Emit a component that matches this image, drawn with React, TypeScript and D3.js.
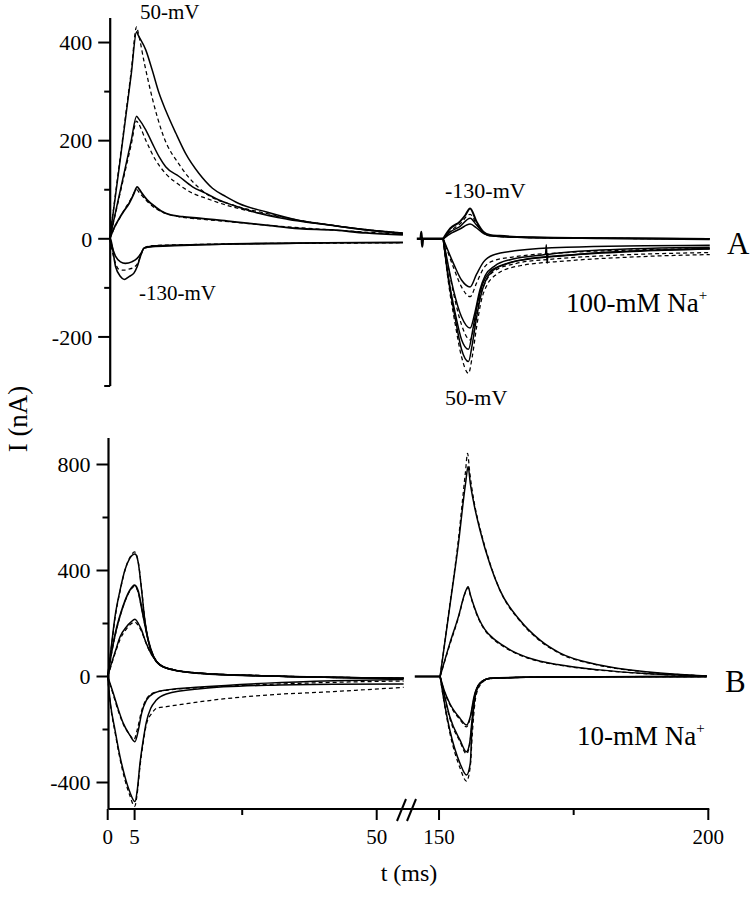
import React from "react";
import * as d3 from "d3";

type Pt = [number, number];

// ---------- axis ticks ----------
const A_major = [400, 200, 0, -200];
const A_minor = [300, 100, -100, -300];
const B_major = [800, 400, 0, -400];
const B_minor = [600, 200, -200];
const X_major = [0, 5, 50, 150, 200];
const X_minor = [25, 175];

// ---------- Panel A (100-mM Na+) : on phase 0-55 ms ----------
const A1_solid: Pt[] = [[0,0],[1,82],[2,165],[3,250],[4,335],[5,422],[5.3,415],[6.7,385],[7.9,344],[9.2,296],[10.4,262],[12.3,215],[14.1,174],[16.6,133],[19.1,103],[21.6,86],[24,72],[29,55],[35,38],[41,28],[47.6,18],[54.5,11]];
const A1_fit: Pt[] = [[0,0],[1,85],[2,170],[3,255],[4,342],[5,432],[5.3,420],[6.5,355],[8,283],[9.8,215],[13.2,147],[17.8,93],[22.8,69],[29,52],[35,38],[41,28],[47.6,19],[54.5,12]];
const A2_solid: Pt[] = [[0,0],[1,50],[2,100],[3,150],[4,200],[5,250],[5.3,246],[6.7,222],[7.9,195],[9.2,167],[10.4,147],[12.9,127],[15.4,106],[17.8,93],[20.3,79],[22.8,69],[27.7,52],[33,40],[40,29],[47,19],[54.5,11]];
const A2_fit: Pt[] = [[0,0],[1,48],[2,96],[3,144],[4,192],[5,240],[5.3,236],[6.7,201],[8.5,161],[10.4,133],[12.9,110],[15.4,93],[17.8,83],[22.8,65],[28,52],[35,38],[41,28],[47.6,19],[54.5,12]];
const A3_solid: Pt[] = [[0,0],[0.8,22],[1.7,40],[2.6,56],[3.6,72],[4.5,92],[5.1,106],[5.5,101],[5.8,96],[7,79],[8.5,65],[10.4,52],[13.5,45],[16.6,42],[22.8,35],[29,28],[35.2,21],[41.4,18],[47.6,12],[54.5,8]];
const A3_fit: Pt[] = [[0,0],[1,25],[2,45],[3,64],[4,82],[5,100],[5.5,94],[7,76],[8.5,62],[10.4,52],[13.5,44],[17,40],[23,34],[30,27],[40,19],[54.5,9]];
const A4_solid: Pt[] = [[0,0],[0.2,-2],[1.1,-57],[2.0,-77],[2.7,-83],[3.6,-77],[4.5,-70],[5.1,-57],[5.8,-33],[6.4,-19],[7.9,-16],[12,-14],[18,-12],[27.8,-9],[40,-8],[54.5,-7]];
const A5_solid: Pt[] = [[0,0],[1.1,-36],[2.0,-47],[2.9,-50],[4.1,-47],[5.1,-40],[5.8,-30],[6.4,-19],[8,-15],[12,-13],[20,-11],[30,-10],[42,-8],[54.5,-8]];
const A4_fit: Pt[] = [[0,0],[0.8,-40],[1.7,-62],[2.6,-64],[3.5,-62],[4.5,-58],[5.2,-50],[5.8,-32],[6.5,-18],[8,-14],[14,-12],[25,-10],[40,-9],[54.5,-8]];

// ---------- Panel A : off phase 145-200 ms ----------
const A_pre: Pt[] = [[145.5,0],[146.2,0],[146.35,14],[146.5,-16],[146.65,0],[150.4,0]];
const A6_solid: Pt[] = [[150.4,0],[151.7,21],[153.5,35],[154.5,48],[155.4,62],[156.6,35],[157.9,14],[159.1,8],[160.9,6],[167.1,3],[179.5,1],[199.9,-1]];
const A7_solid: Pt[] = [[150.4,0],[151.7,14],[153.5,25],[155.4,42],[156.6,28],[157.9,12],[159.1,6],[165,3],[180,1],[199.9,0]];
const A8_solid: Pt[] = [[150.4,0],[152,12],[153.5,20],[155.4,30],[156.6,22],[158,10],[160,5],[170,2],[199.9,0]];
const A6_fit: Pt[] = [[150.4,0],[152,18],[153.5,30],[155.4,50],[156.6,30],[158,12],[160,5],[170,2],[199.9,0]];
const A9_solid: Pt[] = [[150.4,0],[151.4,-85],[152.6,-160],[153.8,-225],[155.1,-250],[155.8,-215],[156.6,-160],[157.4,-115],[158.3,-85],[159.7,-64],[162,-52],[164.1,-45],[173.3,-34],[185.7,-26],[199.9,-21]];
const A9_fit: Pt[] = [[150.4,0],[151.4,-91],[152.6,-172],[153.8,-240],[155.1,-274],[155.8,-240],[156.6,-180],[157.5,-125],[158.5,-95],[160,-75],[164.1,-56],[173.3,-45],[185.7,-37],[199.9,-32]];
const A12_solid: Pt[] = [[150.4,0],[151.4,-80],[152.6,-150],[153.8,-205],[155.1,-225],[155.9,-185],[156.8,-130],[157.8,-90],[159,-68],[161,-55],[165,-43],[175,-32],[199.9,-20]];
const A10_solid: Pt[] = [[150.4,0],[152.3,-104],[153.8,-159],[155.4,-182],[156.3,-150],[157.2,-105],[158.2,-75],[160,-55],[163,-42],[167.1,-35],[169.4,-32],[169.55,-12],[169.7,-50],[169.85,-32],[179.5,-23],[199.9,-17]];
const A10_fit: Pt[] = [[150.4,0],[152.3,-110],[153.8,-175],[155.4,-206],[156.3,-170],[157.2,-120],[158.4,-85],[160,-65],[164,-50],[170,-42],[179.5,-35],[199.9,-28]];
const A11_solid: Pt[] = [[150.4,0],[152.3,-50],[153.8,-84],[155.4,-98],[156.6,-72],[157.9,-47],[159.7,-33],[164.1,-24],[173.3,-17],[199.9,-13]];
const A11_fit: Pt[] = [[150.4,0],[152.3,-58],[153.8,-98],[155.4,-118],[156.6,-90],[157.9,-60],[159.7,-45],[164.1,-36],[173.3,-28],[185,-23],[199.9,-20]];

// ---------- Panel B (10-mM Na+) : on phase ----------
const B1_solid: Pt[] = [[0,0],[0.74,125],[1.36,226],[2.3,326],[3.2,402],[4.1,446],[5.07,462],[5.3,458],[5.7,427],[6.3,326],[6.9,213],[7.5,138],[8.5,75],[9.7,43],[12.2,25],[17.2,12],[29.6,2],[40,-3],[55,-7]];
const B1_fit: Pt[] = [[0,0],[0.74,120],[1.36,220],[2.3,322],[3.2,400],[4.1,448],[5.0,470],[5.3,462],[5.7,430],[6.3,330],[6.9,215],[7.5,140],[8.5,78],[9.7,45],[12.2,26],[17.2,13],[29.6,3],[55,-6]];
const B2_solid: Pt[] = [[0,0],[0.7,90],[1.5,170],[2.3,230],[3.2,285],[4.1,325],[5,345],[5.3,340],[5.7,320],[6.3,260],[6.9,198],[7.5,140],[8.5,76],[9.7,44],[12.2,25],[17.2,12],[29.6,2],[55,-7]];
const B2_fit: Pt[] = [[0,0],[0.7,85],[1.5,165],[2.3,228],[3.2,283],[4.1,322],[5,340],[5.3,335],[5.7,316],[6.3,258],[6.9,196],[7.5,139],[8.5,76],[9.7,44],[12.2,25],[17.2,12],[29.6,2],[55,-7]];
const B3_solid: Pt[] = [[0,0],[0.7,50],[1.5,100],[2.3,150],[3.5,188],[4.3,205],[5.07,216],[5.4,210],[5.7,200],[6.3,175],[6.9,140],[7.5,110],[8.5,72],[9.7,44],[12.2,25],[17.2,12],[29.6,2],[55,-7]];
const B3_fit: Pt[] = [[0,0],[0.7,45],[1.5,95],[2.3,140],[3.5,180],[4.3,198],[5.07,205],[5.4,200],[5.7,192],[6.3,170],[6.9,138],[7.5,108],[8.5,72],[9.7,44],[12.2,25],[17.2,12],[29.6,2],[55,-7]];
const B4_solid: Pt[] = [[0,0],[0.5,-101],[1.36,-202],[2.3,-303],[3.2,-378],[4.1,-435],[5.07,-472],[5.5,-428],[6,-328],[6.6,-240],[7.2,-170],[8,-120],[9,-90],[10.9,-66],[17.2,-46],[29.6,-33],[42,-29],[55,-28]];
const B4_fit: Pt[] = [[0,0],[0.5,-105],[1.36,-210],[2.3,-312],[3.2,-390],[4.1,-448],[5.0,-490],[5.5,-440],[6,-340],[6.6,-250],[7.2,-180],[8.2,-139],[9.1,-120],[10.9,-114],[17.2,-95],[29.6,-70],[41.9,-57],[55,-41]];
const B5_solid: Pt[] = [[0,0],[1.05,-64],[2.0,-126],[2.9,-177],[4.1,-221],[5.07,-246],[5.7,-202],[6.3,-139],[7.2,-89],[8.5,-64],[10.9,-51],[17.2,-40],[29.6,-25],[42,-16],[55,-11]];
const B5_fit: Pt[] = [[0,0],[1.05,-70],[2.0,-132],[2.9,-180],[4.1,-220],[4.9,-238],[5.5,-200],[6.3,-130],[7.2,-85],[8.5,-62],[10.9,-52],[17.2,-42],[29.6,-30],[42,-22],[55,-17]];

// ---------- Panel B : off phase ----------
const B_pre: Pt[] = [[145.2,0],[150.2,0]];
const B6_solid: Pt[] = [[150.2,0],[152,265],[153.5,485],[154.9,725],[155.4,792],[155.8,730],[156.5,650],[157.6,553],[159.5,421],[161.3,326],[165,213],[168.7,138],[172.4,89],[179.8,43],[189,17],[199.7,2]];
const B6_fit: Pt[] = [[150.2,0],[152,270],[153.5,500],[154.9,770],[155.3,842],[155.7,770],[156.5,660],[157.6,560],[159.5,425],[161.3,326],[165,210],[168.7,135],[172.4,87],[179.8,42],[189,16],[199.7,2]];
const B7_solid: Pt[] = [[150.2,0],[152,125],[153.6,226],[154.8,314],[155.4,339],[155.8,310],[156.5,265],[157.4,218],[158.5,178],[160,145],[161.8,118],[164,92],[167,68],[172,45],[179.8,25],[189,10],[199.7,2]];
const B7_fit: Pt[] = [[150.2,0],[152,120],[153.6,222],[154.8,312],[155.4,335],[155.8,307],[156.5,262],[157.4,215],[158.5,175],[160,142],[161.8,115],[164,90],[167,66],[172,44],[179.8,24],[189,10],[199.7,2]];
const B8_solid: Pt[] = [[150.2,0],[150.8,-76],[152,-202],[153.9,-328],[155.1,-372],[155.8,-328],[156.1,-202],[156.7,-76],[157.6,-26],[159.5,-7],[165,-3],[180,-1],[199.7,0]];
const B8_fit: Pt[] = [[150.2,0],[150.8,-80],[152,-212],[153.9,-345],[155.1,-395],[155.8,-340],[156.2,-210],[156.8,-80],[157.8,-28],[159.5,-8],[170,-2],[199.7,0]];
const B9_solid: Pt[] = [[150.2,0],[151,-70],[152,-152],[153.9,-240],[155.1,-284],[155.7,-250],[156.1,-170],[156.6,-76],[157.6,-26],[159.5,-7],[170,-2],[199.7,0]];
const B9_fit: Pt[] = [[150.2,0],[151,-74],[152,-158],[153.9,-246],[155.1,-292],[155.7,-255],[156.15,-172],[156.7,-76],[157.7,-26],[159.5,-7],[170,-2],[199.7,0]];
const B10_solid: Pt[] = [[150.2,0],[151,-55],[152,-102],[153.9,-158],[155.1,-183],[155.8,-152],[156.5,-76],[157.6,-26],[159.5,-7],[170,-2],[199.7,0]];
const B10_fit: Pt[] = [[150.2,0],[151,-58],[152,-106],[153.9,-163],[155.1,-190],[155.8,-156],[156.55,-78],[157.7,-26],[159.5,-7],[170,-2],[199.7,0]];

const tracesA: { d: Pt[]; dash?: boolean; w?: number }[] = [
  { d: A1_fit, dash: true }, { d: A2_fit, dash: true }, { d: A3_fit, dash: true }, { d: A4_fit, dash: true },
  { d: A1_solid }, { d: A2_solid }, { d: A3_solid, w: 1.8 }, { d: A4_solid, w: 1.6 }, { d: A5_solid, w: 1.6 },
  { d: A_pre, w: 2.4 },
  { d: A6_fit, dash: true }, { d: A9_fit, dash: true }, { d: A10_fit, dash: true }, { d: A11_fit, dash: true },
  { d: A6_solid, w: 2 }, { d: A7_solid }, { d: A8_solid }, { d: A9_solid }, { d: A12_solid },
  { d: A10_solid }, { d: A11_solid },
];

const tracesB: { d: Pt[]; dash?: boolean; w?: number }[] = [
  { d: B1_fit, dash: true }, { d: B2_fit, dash: true }, { d: B3_fit, dash: true }, { d: B4_fit, dash: true }, { d: B5_fit, dash: true },
  { d: B1_solid }, { d: B2_solid, w: 1.8 }, { d: B3_solid }, { d: B4_solid }, { d: B5_solid },
  { d: B_pre, w: 2.4 },
  { d: B6_fit, dash: true }, { d: B7_fit, dash: true }, { d: B8_fit, dash: true }, { d: B9_fit, dash: true }, { d: B10_fit, dash: true },
  { d: B6_solid }, { d: B7_solid }, { d: B8_solid }, { d: B9_solid }, { d: B10_solid },
];

const SERIF = "'Liberation Serif', 'Times New Roman', Times, serif";

export default function App() {
  const x = d3.scaleLinear().domain([0, 55.5, 145.5, 200]).range([107.7, 406.3, 414.8, 708.3]);
  const yA = d3.scaleLinear().domain([-300, 450]).range([386, 18]);
  const yB = d3.scaleLinear().domain([-500, 900]).range([809, 438]);

  const mk = (y: d3.ScaleLinear<number, number>) =>
    d3.line<Pt>().x((d) => x(d[0])).y((d) => y(d[1])).curve(d3.curveMonotoneX);
  const lineA = mk(yA);
  const lineB = mk(yB);

  const axA = x(0) + 2.5;
  const axB = x(0) + 0.8;
  const xAxisY = yB(-500);

  const renderTraces = (tr: typeof tracesA, ln: d3.Line<Pt>) =>
    tr.map((t, i) => (
      <path
        key={i}
        d={ln(t.d) || ""}
        fill="none"
        stroke="#000"
        strokeWidth={t.dash ? 1.25 : t.w ?? 1.5}
        strokeDasharray={t.dash ? "4 3" : undefined}
        strokeLinejoin="round"
      />
    ));

  return (
    <svg width={755} height={899} style={{ position: "absolute", left: 0, top: 0, background: "#fff" }} fontFamily={SERIF}>
      <rect width={755} height={899} fill="#fff" />

      {/* Panel A */}
      <g transform="translate(2,0)">{renderTraces(tracesA, lineA)}</g>
      <line x1={axA} x2={axA} y1={yA(450)} y2={yA(-300)} stroke="#000" strokeWidth={2.2} />
      {A_major.map((v) => (
        <g key={"am" + v}>
          <line x1={axA - 12} x2={axA} y1={yA(v)} y2={yA(v)} stroke="#000" strokeWidth={2} />
          <text x={axA - 18} y={yA(v)} dy="0.35em" textAnchor="end" fontSize={22}>{v}</text>
        </g>
      ))}
      {A_minor.map((v) => (
        <line key={"an" + v} x1={axA - 6} x2={axA} y1={yA(v)} y2={yA(v)} stroke="#000" strokeWidth={2} />
      ))}

      {/* Panel B */}
      {renderTraces(tracesB, lineB)}
      <line x1={axB} x2={axB} y1={yB(900)} y2={yB(-500)} stroke="#000" strokeWidth={2.2} />
      {B_major.map((v) => (
        <g key={"bm" + v}>
          <line x1={axB - 12} x2={axB} y1={yB(v)} y2={yB(v)} stroke="#000" strokeWidth={2} />
          <text x={axB - 18} y={yB(v)} dy="0.35em" textAnchor="end" fontSize={22}>{v}</text>
        </g>
      ))}
      {B_minor.map((v) => (
        <line key={"bn" + v} x1={axB - 6} x2={axB} y1={yB(v)} y2={yB(v)} stroke="#000" strokeWidth={2} />
      ))}

      {/* x axis with break */}
      <line x1={axB} x2={x(200) + 1} y1={xAxisY} y2={xAxisY} stroke="#000" strokeWidth={2.2} />
      {X_major.map((v) => (
        <g key={"xm" + v}>
          <line x1={x(v)} x2={x(v)} y1={xAxisY} y2={xAxisY + 11} stroke="#000" strokeWidth={2} />
          <text x={x(v)} y={844} textAnchor="middle" fontSize={21}>{v}</text>
        </g>
      ))}
      {X_minor.map((v) => (
        <line key={"xn" + v} x1={x(v)} x2={x(v)} y1={xAxisY} y2={xAxisY + 6} stroke="#000" strokeWidth={2} />
      ))}
      <line x1={397} y1={821} x2={406} y2={799} stroke="#000" strokeWidth={2} />
      <line x1={407} y1={821} x2={416} y2={799} stroke="#000" strokeWidth={2} />

      {/* axis titles */}
      <text x={409} y={881} textAnchor="middle" fontSize={24}>t (ms)</text>
      <text transform="translate(27,419) rotate(-90)" textAnchor="middle" fontSize={27}>I (nA)</text>

      {/* annotations */}
      <text x={140} y={19} fontSize={21}>50-mV</text>
      <text x={139} y={300} fontSize={21}>-130-mV</text>
      <text x={445} y={198} fontSize={22}>-130-mV</text>
      <text x={445} y={405} fontSize={22}>50-mV</text>
      <text x={727} y={254} fontSize={31}>A</text>
      <text x={725} y={692} fontSize={31}>B</text>
      <text x={566} y={312} fontSize={27}>
        100-mM Na<tspan dy={-12} fontSize={15}>+</tspan>
      </text>
      <text x={577} y={745} fontSize={27}>
        10-mM Na<tspan dy={-12} fontSize={15}>+</tspan>
      </text>
    </svg>
  );
}
